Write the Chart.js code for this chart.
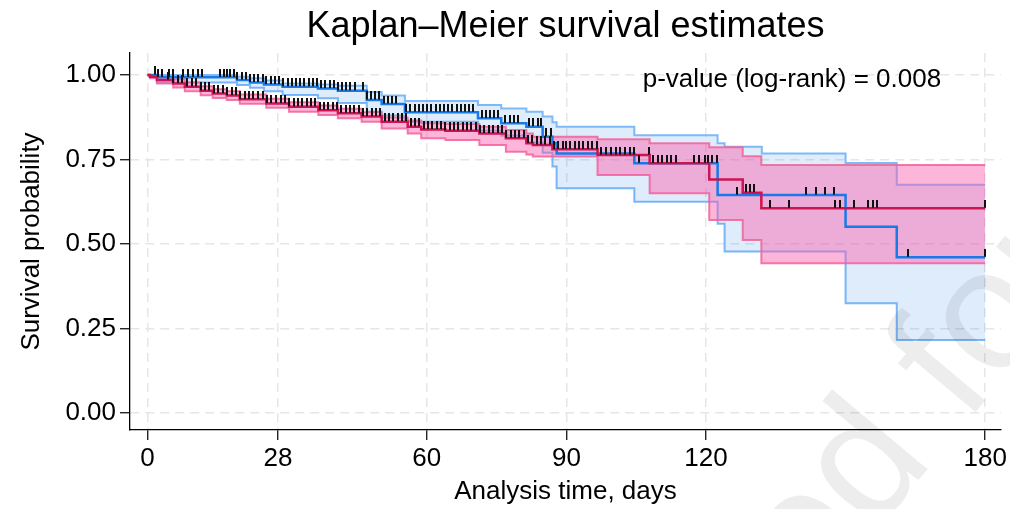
<!DOCTYPE html>
<html>
<head>
<meta charset="utf-8">
<script src="https://cdn.jsdelivr.net/npm/chart.js@4/dist/chart.umd.min.js"></script>
<style>
  html, body { margin: 0; padding: 0; background: #fff; }
  canvas { display: block; }
</style>
</head>
<body>
<canvas id="kmChart" width="1010" height="509"></canvas>
<script>
// Kaplan-Meier estimates (time in days)
const blueTime  = [0, 2, 19.2, 22, 25, 29, 36.6, 40.9, 47.1, 50.3, 55.3, 71, 76, 81.4, 84.9, 87, 87.9, 104.6, 122.5, 124, 132, 150, 161, 180];
const blueSurv  = [1, 0.993, 0.985, 0.978, 0.972, 0.965, 0.96, 0.953, 0.926, 0.914, 0.89, 0.872, 0.857, 0.847, 0.817, 0.798, 0.768, 0.739, 0.645, 0.645, 0.645, 0.551, 0.461, 0.461];
const blueLower = [1, 0.978, 0.97, 0.962, 0.952, 0.941, 0.931, 0.917, 0.891, 0.88, 0.862, 0.835, 0.82, 0.8, 0.77, 0.729, 0.665, 0.625, 0.56, 0.478, 0.478, 0.325, 0.216, 0.216];
const blueUpper = [1, 1, 0.995, 0.99, 0.984, 0.975, 0.972, 0.968, 0.95, 0.939, 0.923, 0.911, 0.901, 0.891, 0.877, 0.86, 0.847, 0.822, 0.798, 0.788, 0.768, 0.74, 0.675, 0.675];

const redTime  = [0, 0.5, 2, 5.5, 8, 11.4, 14, 17, 19.8, 25.5, 30.4, 36.7, 40.9, 46, 50.3, 55.9, 58.8, 64, 71.3, 77, 81.4, 82.8, 87, 96.7, 107.9, 120.7, 127.9, 131.9, 180];
const redSurv  = [1, 0.995, 0.985, 0.975, 0.965, 0.953, 0.945, 0.939, 0.928, 0.916, 0.906, 0.896, 0.887, 0.877, 0.862, 0.847, 0.839, 0.835, 0.827, 0.813, 0.798, 0.793, 0.78, 0.763, 0.739, 0.691, 0.652, 0.606, 0.606];
const redLower = [1, 0.99, 0.975, 0.963, 0.952, 0.94, 0.932, 0.926, 0.915, 0.903, 0.891, 0.882, 0.872, 0.862, 0.842, 0.827, 0.813, 0.808, 0.793, 0.773, 0.765, 0.759, 0.759, 0.704, 0.65, 0.571, 0.512, 0.443, 0.443];
const redUpper = [1, 1, 0.995, 0.987, 0.978, 0.967, 0.958, 0.952, 0.942, 0.93, 0.919, 0.91, 0.9, 0.89, 0.874, 0.865, 0.857, 0.855, 0.847, 0.837, 0.827, 0.817, 0.817, 0.81, 0.798, 0.786, 0.76, 0.734, 0.734];

// censoring times
const blueCensor = [1.6, 2.3, 3.2, 4.6, 5.5, 7.6, 8.7, 9.8, 10.9, 11.8, 15.5, 16.4, 17.1, 17.8, 18.6, 19.2, 20.2, 21.1, 22.0, 22.8, 23.7, 24.7, 25.5, 26.5, 27.3, 28.3, 29.1, 30.1, 31.0, 31.9, 32.8, 33.7, 34.6, 35.5, 36.4, 37.3, 38.2, 39.1, 40.0, 40.9, 41.8, 42.7, 43.6, 44.5, 46.2, 47.1, 48.0, 48.9, 49.8, 50.7, 51.6, 52.5, 53.4, 55.6, 56.5, 57.4, 58.3, 59.2, 60.1, 61.0, 61.9, 62.8, 63.7, 64.6, 65.5, 66.4, 67.3, 68.2, 69.1, 70.0, 71.8, 72.7, 73.6, 74.5, 75.4, 76.9, 77.8, 78.7, 79.6, 82.0, 82.9, 83.8, 84.5, 85.7, 86.8, 105.6, 121.4, 122.4, 126.6, 141.6, 143.6, 145.6, 147.6, 163.5, 180];
const redCensor = [4.4, 5.5, 6.5, 7.3, 8.4, 9.5, 10.4, 11.4, 12.3, 13.2, 14.3, 15.2, 16.1, 17.1, 18.1, 19.0, 19.8, 20.9, 21.8, 22.7, 23.8, 24.7, 25.7, 26.6, 27.6, 28.6, 29.5, 30.4, 31.4, 32.3, 33.2, 34.2, 35.1, 36.0, 37.0, 37.9, 38.8, 39.8, 40.7, 41.6, 42.6, 43.5, 44.4, 45.4, 46.3, 47.2, 48.2, 49.1, 50.0, 51.0, 51.9, 52.8, 53.8, 54.7, 55.6, 56.6, 57.5, 58.4, 59.4, 60.3, 61.2, 62.2, 63.1, 64.0, 65.0, 65.9, 66.8, 67.8, 68.7, 69.6, 70.6, 71.5, 72.4, 73.4, 74.3, 75.2, 76.2, 77.1, 78.0, 79.0, 79.9, 80.8, 81.8, 82.7, 83.6, 84.6, 85.5, 86.4, 87.4, 88.3, 89.2, 90.0, 90.8, 91.8, 92.7, 93.5, 94.6, 95.5, 96.5, 97.5, 98.6, 99.6, 100.6, 101.6, 102.5, 103.6, 104.6, 107.7, 108.7, 109.6, 110.6, 111.6, 112.5, 113.6, 117.5, 118.6, 119.7, 120.5, 128.6, 129.5, 130.4, 133.8, 137.9, 147.8, 148.8, 151.9, 154.8, 155.8, 156.8, 180];

const xTicks = [0, 28, 60, 90, 120, 180];
const yTicks = [0, 0.25, 0.5, 0.75, 1];

const titleText = 'Kaplan\u2013Meier survival estimates';
const pValueText = 'p-value (log-rank) = 0.008';

const FONT = '"Liberation Sans", Arial, Helvetica, sans-serif';

function toPoints(times, values) {
    return times.map((t, i) => ({ x: t, y: values[i] }));
}

// survival value of a step curve at time t
function survAt(times, values, t) {
    let s = values[0];
    for (let i = 0; i < times.length; i++) {
        if (times[i] <= t) s = values[i];
    }
    return s;
}

function censorPoints(cens, times, values) {
    return cens.map(t => ({ x: t, y: survAt(times, values, t) }));
}

// small vertical tick that sits on top of the curve
const tickMark = document.createElement('canvas');
tickMark.width = 2;
tickMark.height = 17;
const tctx = tickMark.getContext('2d');
tctx.fillStyle = '#111';
tctx.fillRect(0, 0, 2, 8);

const textPlugin = {
    id: 'kmText',
    afterDraw(chart) {
        const ctx = chart.ctx;
        const area = chart.chartArea;
        const xs = chart.scales.x;
        const ys = chart.scales.y;
        ctx.save();
        // title
        ctx.fillStyle = '#000';
        ctx.font = '36px ' + FONT;
        ctx.textAlign = 'center';
        ctx.textBaseline = 'alphabetic';
        ctx.fillText(titleText, (area.left + area.right) / 2, 37);
        // p-value
        ctx.font = '26px ' + FONT;
        ctx.textAlign = 'left';
        ctx.fillText(pValueText, xs.getPixelForValue(106.4), ys.getPixelForValue(0.965));
        // faint watermark
        ctx.translate(812, 607);
        ctx.rotate(-50 * Math.PI / 180);
        ctx.font = '172px ' + FONT;
        ctx.fillStyle = 'rgba(0, 0, 0, 0.07)';
        ctx.fillText('ed for', 0, 0);
        ctx.restore();
    }
};

const blueLine = 'rgb(24, 122, 232)';
const redLine = 'rgb(205, 20, 82)';

const ctx = document.getElementById('kmChart').getContext('2d');
window.kmChart = new Chart(ctx, {
    type: 'line',
    data: {
        datasets: [
            {
                label: 'blue censored',
                type: 'scatter',
                data: censorPoints(blueCensor, blueTime, blueSurv),
                pointStyle: tickMark,
                pointRadius: 4,
                showLine: false,
                order: 1
            },
            {
                label: 'red censored',
                type: 'scatter',
                data: censorPoints(redCensor, redTime, redSurv),
                pointStyle: tickMark,
                pointRadius: 4,
                showLine: false,
                order: 1
            },
            {
                label: 'red',
                data: toPoints(redTime, redSurv),
                stepped: true,
                borderColor: redLine,
                borderWidth: 2.5,
                pointRadius: 0,
                fill: false,
                order: 2
            },
            {
                label: 'blue',
                data: toPoints(blueTime, blueSurv),
                stepped: true,
                borderColor: blueLine,
                borderWidth: 2.5,
                pointRadius: 0,
                fill: false,
                order: 3
            },
            {
                label: 'red upper',
                data: toPoints(redTime, redUpper),
                stepped: true,
                borderColor: 'rgba(238, 100, 150, 0.85)',
                borderWidth: 2,
                pointRadius: 0,
                backgroundColor: 'rgba(252, 92, 172, 0.45)',
                fill: '+1',
                order: 4
            },
            {
                label: 'red lower',
                data: toPoints(redTime, redLower),
                stepped: true,
                borderColor: 'rgba(238, 100, 150, 0.85)',
                borderWidth: 2,
                pointRadius: 0,
                fill: false,
                order: 4
            },
            {
                label: 'blue upper',
                data: toPoints(blueTime, blueUpper),
                stepped: true,
                borderColor: 'rgba(120, 182, 248, 0.95)',
                borderWidth: 2,
                pointRadius: 0,
                backgroundColor: 'rgba(40, 130, 230, 0.15)',
                fill: '+1',
                order: 5
            },
            {
                label: 'blue lower',
                data: toPoints(blueTime, blueLower),
                stepped: true,
                borderColor: 'rgba(120, 182, 248, 0.95)',
                borderWidth: 2,
                pointRadius: 0,
                fill: false,
                order: 5
            }
        ]
    },
    options: {
        responsive: false,
        animation: false,
        layout: { padding: { top: 53, right: 8, left: 0, bottom: 0 } },
        plugins: {
            legend: { display: false },
            tooltip: { enabled: false },
            title: { display: false }
        },
        scales: {
            x: {
                type: 'linear',
                min: -3.78,
                max: 183.4,
                afterBuildTicks: scale => { scale.ticks = xTicks.map(v => ({ value: v })); },
                afterFit: scale => { scale.height = 79; },
                grid: {
                    color: '#e6e6e6',
                    lineWidth: 1.5,
                    tickColor: '#000',
                    tickLength: 10,
                    tickWidth: 1.2
                },
                border: { display: true, color: '#000', width: 1.3, dash: [9, 6] },
                ticks: {
                    color: '#000',
                    font: { family: FONT, size: 26 },
                    padding: 3,
                    maxRotation: 0,
                    autoSkip: false
                },
                title: {
                    display: true,
                    text: 'Analysis time, days',
                    color: '#000',
                    font: { family: FONT, size: 26 },
                    padding: { top: 0, bottom: 2 }
                }
            },
            y: {
                type: 'linear',
                min: -0.05,
                max: 1.065,
                afterBuildTicks: scale => { scale.ticks = yTicks.map(v => ({ value: v })); },
                afterFit: scale => { scale.width = 130; },
                grid: {
                    color: '#e6e6e6',
                    lineWidth: 1.5,
                    tickColor: '#000',
                    tickLength: 10,
                    tickWidth: 1.2
                },
                border: { display: true, color: '#000', width: 1.3, dash: [9, 6] },
                ticks: {
                    color: '#000',
                    font: { family: FONT, size: 26 },
                    padding: 4,
                    callback: v => Number(v).toFixed(2)
                },
                title: {
                    display: true,
                    text: 'Survival probability',
                    color: '#000',
                    font: { family: FONT, size: 26 },
                    padding: { top: 16, bottom: 0 }
                }
            }
        }
    },
    plugins: [textPlugin]
});
</script>
</body>
</html>
